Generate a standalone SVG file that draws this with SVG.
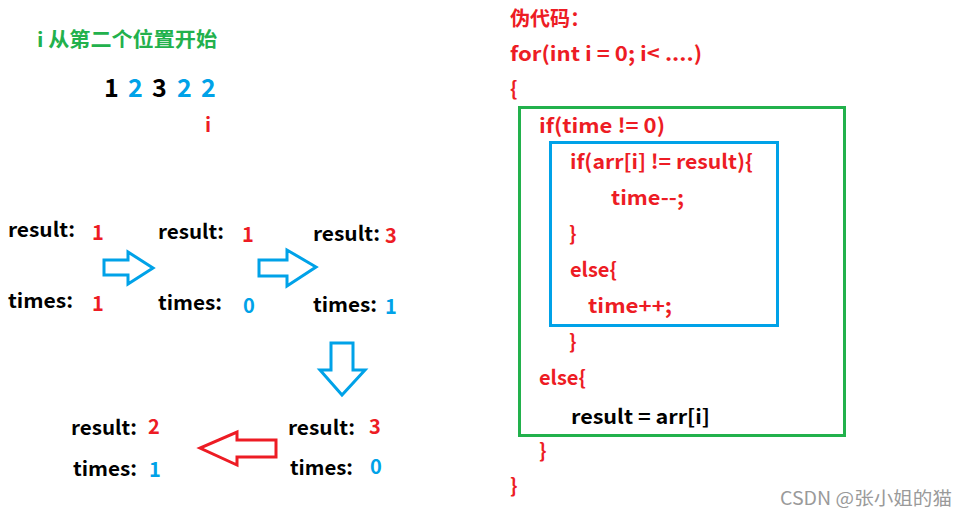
<svg xmlns="http://www.w3.org/2000/svg" width="967" height="517" viewBox="0 0 967 517">
<style>
text{font-family:"Noto Sans CJK SC","Microsoft YaHei","Open Sans",sans-serif;font-weight:bold;font-size:20px}
.r{fill:#ed1c24}.b{fill:#00a2e8}.k{fill:#000}.g{fill:#22b14c}
.big{font-size:25px}
.arB{fill:none;stroke:#00a2e8;stroke-width:3}
.arR{fill:none;stroke:#ed1c24;stroke-width:3}
.box{fill:none;stroke-width:3}
</style>
<rect width="967" height="517" fill="#fff"/>
<g id="title"><text x="37" y="47" class="g" font-size="19" textLength="180" lengthAdjust="spacingAndGlyphs">i 从第二个位置开始</text></g>
<g id="array">
<text x="104" y="97" class="big k">1</text>
<text x="128" y="97" class="big b">2</text>
<text x="152" y="97" class="big k">3</text>
<text x="177" y="97" class="big b">2</text>
<text x="201" y="97" class="big b">2</text>
<text x="205" y="132" class="r" font-size="18">i</text>
</g>
<g id="state1">
<text x="8" y="237" class="k" textLength="67" lengthAdjust="spacingAndGlyphs">result:</text><text x="92" y="240" class="r">1</text>
<text x="8" y="308" class="k" textLength="65" lengthAdjust="spacingAndGlyphs">times:</text><text x="92" y="311" class="r">1</text>
</g>
<g id="state2">
<text x="158" y="239" class="k" textLength="66" lengthAdjust="spacingAndGlyphs">result:</text><text x="242" y="242" class="r">1</text>
<text x="158" y="310" class="k" textLength="64" lengthAdjust="spacingAndGlyphs">times:</text><text x="243" y="313" class="b">0</text>
</g>
<g id="state3">
<text x="313" y="241" class="k" textLength="67" lengthAdjust="spacingAndGlyphs">result:</text><text x="385" y="243" class="r">3</text>
<text x="313" y="312" class="k" textLength="64" lengthAdjust="spacingAndGlyphs">times:</text><text x="385" y="314" class="b">1</text>
</g>
<g id="state4">
<text x="288" y="435" class="k" textLength="67" lengthAdjust="spacingAndGlyphs">result:</text><text x="369" y="434" class="r">3</text>
<text x="290" y="475" class="k" textLength="63" lengthAdjust="spacingAndGlyphs">times:</text><text x="370" y="474" class="b">0</text>
</g>
<g id="state5">
<text x="71" y="435" class="k" textLength="66" lengthAdjust="spacingAndGlyphs">result:</text><text x="148" y="434" class="r">2</text>
<text x="73" y="476" class="k" textLength="64" lengthAdjust="spacingAndGlyphs">times:</text><text x="149" y="477" class="b">1</text>
</g>
<g id="connectors">
<polygon class="arB" points="104,260 128,260 128,252 153,268 128,284 128,275 104,275"/>
<polygon class="arB" points="259,260 287,260 287,250 316,267 287,286 287,276 259,276"/>
<polygon class="arB" points="331,343 353,343 353,370 365,370 342,395 320,370 331,370"/>
<polygon class="arR" points="276,440 237,440 237,432 200,448 237,465 237,457 276,457"/>
</g>
<g id="code">
<text x="510" y="26" class="r">伪代码：</text>
<text x="510" y="61" class="r" textLength="192" lengthAdjust="spacingAndGlyphs">for(int i = 0; i&lt; ....)</text>
<text x="510" y="96" class="r">{</text>
<rect class="box" x="519.500" y="107.500" width="325" height="328" stroke="#22b14c"/>
<text x="539" y="133" class="r" textLength="126" lengthAdjust="spacingAndGlyphs">if(time != 0)</text>
<rect class="box" x="550.500" y="142.500" width="227" height="183" stroke="#00a2e8"/>
<text x="570" y="169" class="r" textLength="183" lengthAdjust="spacingAndGlyphs">if(arr[i] != result){</text>
<text x="611" y="205" class="r" textLength="73" lengthAdjust="spacingAndGlyphs">time--;</text>
<text x="569" y="241" class="r">}</text>
<text x="570" y="277" class="r" textLength="47" lengthAdjust="spacingAndGlyphs">else{</text>
<text x="588" y="313" class="r" textLength="84" lengthAdjust="spacingAndGlyphs">time++;</text>
<text x="569" y="349" class="r">}</text>
<text x="539" y="385" class="r" textLength="47" lengthAdjust="spacingAndGlyphs">else{</text>
<text x="571" y="424" class="k" textLength="139" lengthAdjust="spacingAndGlyphs">result = arr[i]</text>
<text x="539" y="458" class="r">}</text>
<text x="510" y="493" class="r">}</text>
</g>
<text x="780" y="505" fill="#9a9a9a" style="font-weight:normal;font-size:18px" textLength="172" lengthAdjust="spacingAndGlyphs">CSDN @张小姐的猫</text>
</svg>
